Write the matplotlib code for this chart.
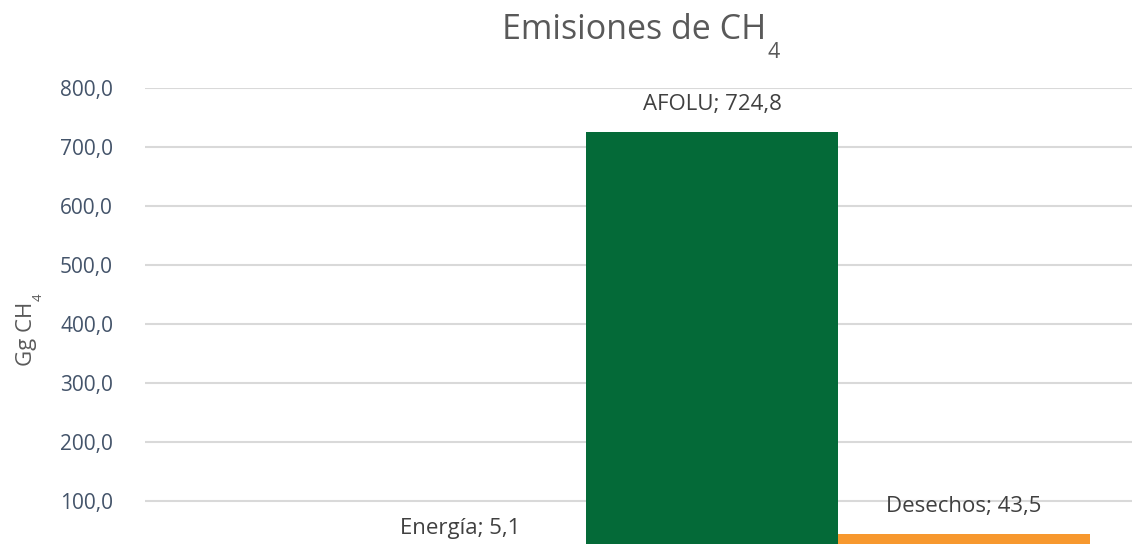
import matplotlib
matplotlib.use("Agg")
import matplotlib.pyplot as plt

# Datos
categorias = ["Energía", "AFOLU", "Desechos"]
valores = [5.1, 724.8, 43.5]
ticks_y = [100, 200, 300, 400, 500, 600, 700, 800]

colores = ["#4472C4", "#046A38", "#F7982E"]

plt.rcParams["font.family"] = ["Open Sans", "DejaVu Sans"]

W, H = 1132, 544
fig = plt.figure(figsize=(W / 100, H / 100), dpi=100)
ax = fig.add_axes([145 / W, 0, (W - 145) / W, (H - 88) / H])

x = range(len(categorias))
ax.bar(x, valores, width=1.0, color=colores, zorder=2)

for i, v in enumerate(valores):
    etiqueta = f"{categorias[i]}; {v:.1f}".replace(".", ",")
    ax.annotate(etiqueta, (i, v), xytext=(0, 20), textcoords="offset points",
                ha="center", va="center", fontsize=16, color="#404040",
                annotation_clip=False)

ax.set_xlim(-1.25, 2.667)
ax.set_ylim(26.6, 800)
ax.set_yticks(ticks_y)
ax.set_yticklabels([f"{t:.1f}".replace(".", ",") for t in ticks_y])
ax.set_xticks([])
ax.tick_params(axis="y", length=0, pad=23, labelsize=15, labelcolor="#44546A")
ax.yaxis.grid(True, color="#D9D9D9", linewidth=1.5, zorder=0)
ax.set_axisbelow(True)
for s in ax.spines.values():
    s.set_visible(False)

renderer = fig.canvas.get_renderer()

# titulo con subindice al estilo Excel
t = fig.text(502 / W, 1 - 39 / H, "Emisiones de CH", ha="left", va="baseline",
             fontsize=24.5, color="#595959")
bb = t.get_window_extent(renderer)
fig.text((bb.x1 + 1) / W, 1 - 58 / H, "4", ha="left", va="baseline",
         fontsize=15.5, color="#595959")

# etiqueta del eje y
yl = fig.text(32 / W, 1 - 366 / H, "Gg CH", rotation=90, rotation_mode="anchor",
              ha="left", va="baseline", fontsize=16, color="#595959")
bb = yl.get_window_extent(renderer)
fig.text(42 / W, (bb.y1 + 1) / H, "4", rotation=90, rotation_mode="anchor",
         ha="left", va="baseline", fontsize=9.5, color="#595959")

fig.savefig("out.png", dpi=100)
